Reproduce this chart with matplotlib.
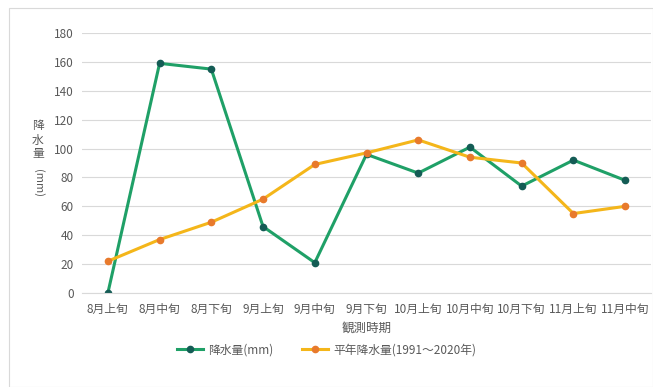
import matplotlib
matplotlib.use("Agg")
import matplotlib.pyplot as plt
from matplotlib.patches import Rectangle

plt.rcParams['font.family'] = ['Noto Sans CJK JP', 'DejaVu Sans']

categories = ["8月上旬", "8月中旬", "8月下旬", "9月上旬", "9月中旬", "9月下旬",
              "10月上旬", "10月中旬", "10月下旬", "11月上旬", "11月中旬"]
rain = [0, 159, 155, 46, 21, 96, 83, 101, 74, 92, 78]
normal = [22, 37, 49, 65, 89, 97, 106, 94, 90, 55, 60]
yticks = list(range(0, 181, 20))

fig = plt.figure(figsize=(6.53, 3.87), dpi=100)
fig.patches.append(Rectangle((9/653, 0.0), 1 - 9/653, 1 - 8/387, transform=fig.transFigure,
                             fill=False, edgecolor="#d9d9d9", linewidth=0.8))
ax = fig.add_axes([82/653, 1 - 293/387, (651 - 82)/653, (293 - 33)/387])

x = list(range(len(categories)))
l1, = ax.plot(x, rain, color="#1fa067", linewidth=2.2, marker="o", markersize=4.5,
              markerfacecolor="#145c55", markeredgecolor="#145c55", label="降水量(mm)")
l2, = ax.plot(x, normal, color="#f4b61a", linewidth=2.2, marker="o", markersize=4.5,
              markerfacecolor="#e87a2c", markeredgecolor="#e87a2c", label="平年降水量(1991～2020年)")

ax.set_xlim(-0.5, len(categories) - 0.5)
ax.set_ylim(0, 180)
ax.set_yticks(yticks)
ax.set_xticks(x)
ax.set_xticklabels(categories)
ax.tick_params(axis="x", length=0, labelsize=8.5, colors="#595959", pad=7)
ax.tick_params(axis="y", length=0, labelsize=8.5, colors="#595959", pad=6)
ax.grid(axis="y", color="#d9d9d9", linewidth=0.8)
ax.set_axisbelow(True)
for s in ["top", "right", "left"]:
    ax.spines[s].set_visible(False)
ax.spines["bottom"].set_color("#d9d9d9")

ax.set_xlabel("観測時期", fontsize=9, color="#595959", labelpad=4)

fig.text(38/653, 1 - 140/387, "降\n水\n量", fontsize=8.5, color="#595959",
         ha="center", va="center", linespacing=1.1)
fig.text(38/653, 1 - 183/387, "(mm)", fontsize=8, color="#595959",
         ha="center", va="center", rotation=270)

fig.legend(handles=[l1, l2], loc="center", bbox_to_anchor=(0.5, 1 - 350/387),
           ncol=2, frameon=False, fontsize=8.5, labelcolor="#595959",
           handlelength=2.2, columnspacing=2.5, handletextpad=0.4)

fig.savefig("out.png", dpi=100)
